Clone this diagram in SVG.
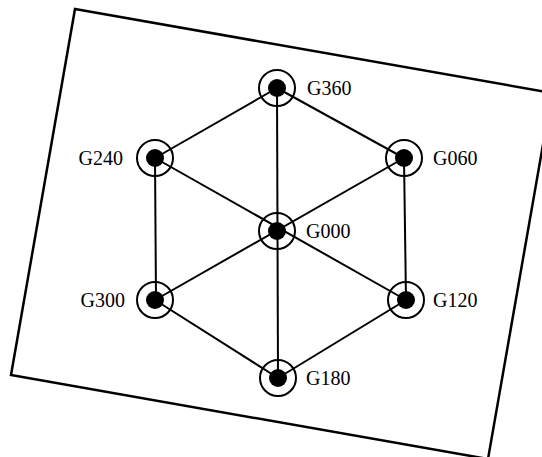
<svg xmlns="http://www.w3.org/2000/svg" width="542" height="457" viewBox="0 0 542 457">
<style>
.ring{fill:none;stroke:#000;stroke-width:2}
.dot{fill:#000}
.lbl{font-family:"Liberation Serif","Times New Roman",serif;font-size:20px;fill:#000}
.edge{stroke:#000;stroke-width:2;fill:none}
</style>
<rect width="542" height="457" fill="#fff"/>
<polygon points="75,9 552,93 488,459 11,375" fill="none" stroke="#000" stroke-width="2.5"/>
<g id="connectors">
<line class="edge" x1="277" y1="88" x2="155" y2="158"/>
<line class="edge" x1="277" y1="88" x2="404" y2="158"/>
<line class="edge" x1="277" y1="88" x2="278" y2="378"/>
<line class="edge" x1="155" y1="158" x2="406" y2="300"/>
<line class="edge" x1="404" y1="158" x2="155" y2="300"/>
<line class="edge" x1="155" y1="158" x2="156" y2="300"/>
<line class="edge" x1="404" y1="158" x2="406" y2="300"/>
<line class="edge" x1="155" y1="300" x2="278" y2="378"/>
<line class="edge" x1="406" y1="300" x2="278" y2="378"/>
</g>
<g id="G360"><circle class="ring" cx="277" cy="88" r="18"/><circle class="dot" cx="277" cy="88" r="9"/><text class="lbl" x="307" y="95">G360</text></g>
<g id="G240"><circle class="ring" cx="155" cy="158" r="18"/><circle class="dot" cx="155" cy="158" r="9"/><text class="lbl" x="123" y="165" text-anchor="end">G240</text></g>
<g id="G060"><circle class="ring" cx="404" cy="158" r="18"/><circle class="dot" cx="404" cy="158" r="9"/><text class="lbl" x="433" y="165">G060</text></g>
<g id="G000"><circle class="ring" cx="277" cy="231" r="18"/><circle class="dot" cx="277" cy="231" r="9"/><text class="lbl" x="306" y="238">G000</text></g>
<g id="G300"><circle class="ring" cx="155" cy="300" r="18"/><circle class="dot" cx="155" cy="300" r="9"/><text class="lbl" x="125" y="307" text-anchor="end">G300</text></g>
<g id="G120"><circle class="ring" cx="406" cy="300" r="18"/><circle class="dot" cx="406" cy="300" r="9"/><text class="lbl" x="433" y="307">G120</text></g>
<g id="G180"><circle class="ring" cx="278" cy="378" r="18"/><circle class="dot" cx="278" cy="378" r="9"/><text class="lbl" x="306" y="385">G180</text></g>
</svg>
